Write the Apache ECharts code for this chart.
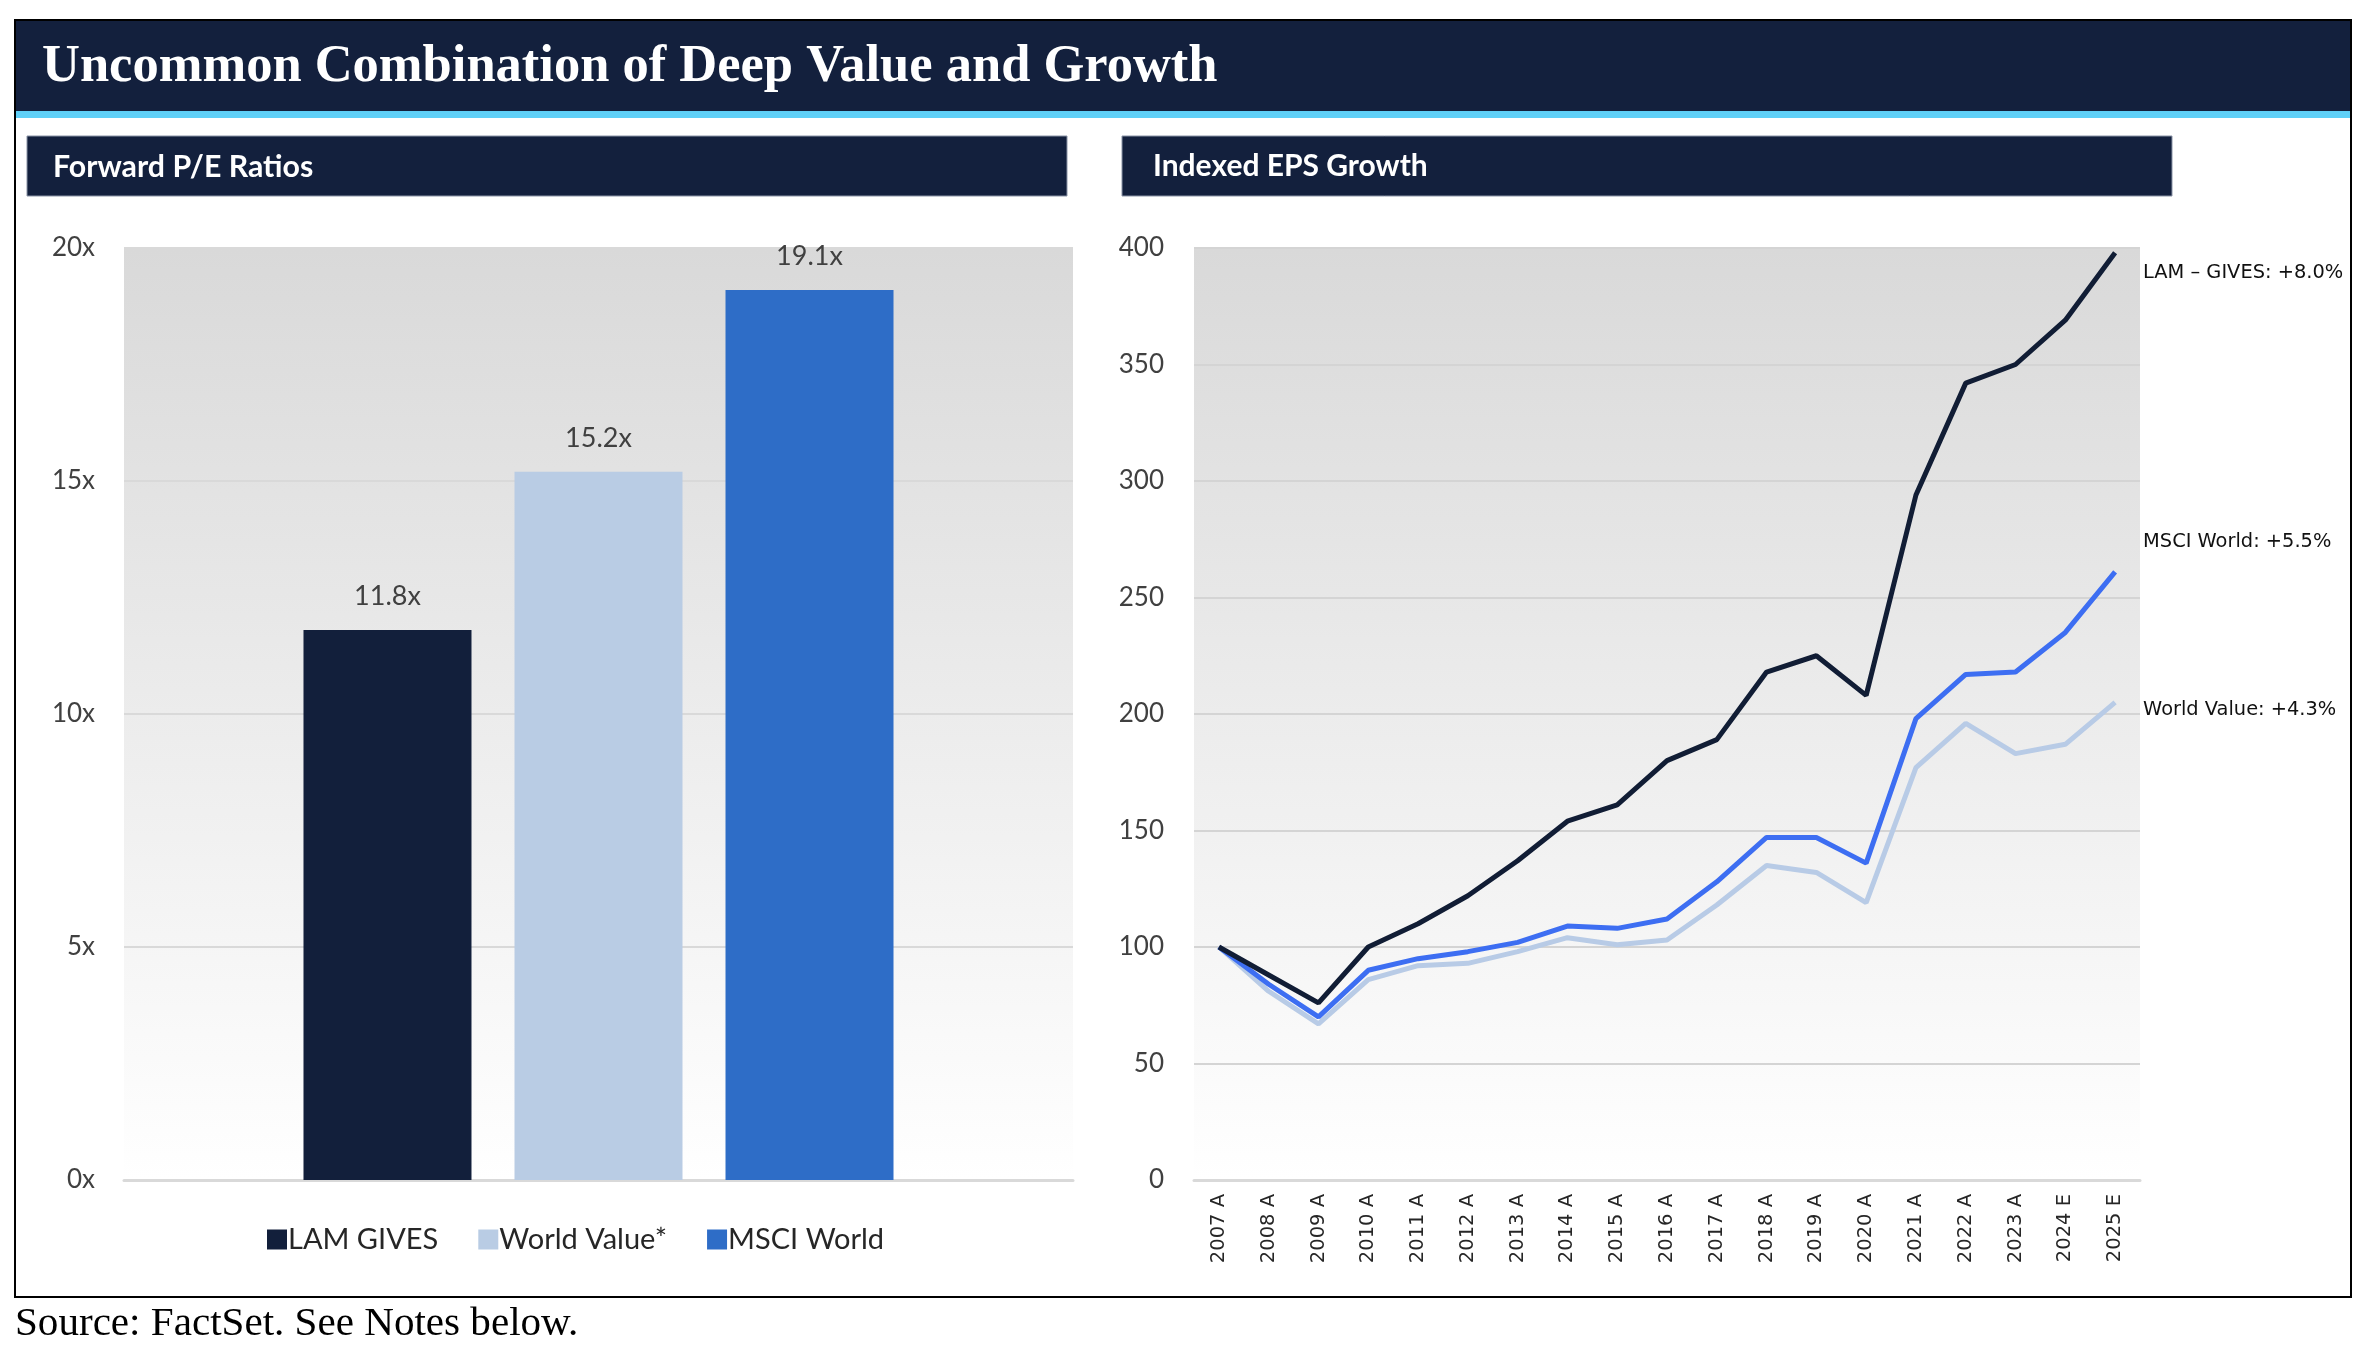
<!DOCTYPE html>
<html>
<head>
<meta charset="utf-8">
<script src="https://cdn.jsdelivr.net/npm/echarts@6/dist/echarts.min.js"></script>
<style>
html,body{margin:0;padding:0;background:#fff;}
#c{width:2370px;height:1354px;}
</style>
</head>
<body>
<div id="c"></div>
<script>
// ---- Data ----
const peCategories = ['Forward P/E'];
const peSeriesNames = ['LAM GIVES', 'World Value*', 'MSCI World'];
const peLAM = [11.8];
const peWorldValue = [15.2];
const peMSCI = [19.1];
const peTicks = ['0x', '5x', '10x', '15x', '20x'];

const years = ['2007 A','2008 A','2009 A','2010 A','2011 A','2012 A','2013 A','2014 A','2015 A','2016 A','2017 A','2018 A','2019 A','2020 A','2021 A','2022 A','2023 A','2024 E','2025 E'];
const epsLAM = [100, 88, 76, 100, 110, 122, 137, 154, 161, 180, 189, 218, 225, 208, 294, 342, 350, 369, 398];
const epsMSCI = [100, 84, 70, 90, 95, 98, 102, 109, 108, 112, 128, 147, 147, 136, 198, 217, 218, 235, 261];
const epsWorldValue = [100, 81, 67, 86, 92, 93, 98, 104, 101, 103, 118, 135, 132, 119, 177, 196, 183, 187, 205];
const epsEndLabels = ['LAM \u2013 GIVES: +8.0%', 'MSCI World: +5.5%', 'World Value: +4.3%'];

// ---- Styling helpers ----
const NAVY = '#13203d';
const cv = document.createElement('canvas').getContext('2d');
function fit(text, family, weight, target, base) {
  cv.font = weight + ' ' + base + 'px ' + family;
  const w = cv.measureText(text).width;
  return Math.round(base * target / w * 10) / 10;
}
const serif = '"Liberation Serif", "DejaVu Serif", serif';
const sans = 'Lato, "Noto Sans", sans-serif';
const titleText = 'Uncommon Combination of Deep Value and Growth';
const titleSize = fit(titleText, serif, 'bold', 1176, 44);
const sourceText = 'Source: FactSet. See Notes below.';
const sourceSize = fit(sourceText, serif, 'normal', 564, 36);
const sub1 = 'Forward P/E Ratios', sub2 = 'Indexed EPS Growth';
const sub1Size = fit(sub1, sans, 'bold', 260, 28);
const sub2Size = fit(sub2, sans, 'bold', 275, 28);
const endFam = '"DejaVu Sans", Verdana, sans-serif';
const endSize = fit(epsEndLabels[0], endFam, 'normal', 200, 18);

const plotBg = {type:'linear', x:0, y:0, x2:0, y2:1, colorStops:[{offset:0,color:'#d9d9d9'},{offset:1,color:'#ffffff'}]};

const chart = echarts.init(document.getElementById('c'));
const option = {
  animation: false,
  backgroundColor: '#ffffff',
  graphic: [
    {type:'rect', z:0, shape:{x:15,y:20,width:2336,height:1277}, style:{fill:'none', stroke:'#000', lineWidth:2}},
    {type:'rect', z:0, shape:{x:16,y:21,width:2334,height:90}, style:{fill:NAVY}},
    {type:'rect', z:0, shape:{x:16,y:111,width:2334,height:7}, style:{fill:'#5fd0f8'}},
    {type:'text', z:5, x:42, y:67, style:{text:titleText, fill:'#fff', font:'bold '+titleSize+'px '+serif, verticalAlign:'middle'}},
    {type:'rect', z:0, shape:{x:27,y:136,width:1040,height:60}, style:{fill:NAVY, stroke:'#8a93a6', lineWidth:1}},
    {type:'rect', z:0, shape:{x:1122,y:136,width:1050,height:60}, style:{fill:NAVY, stroke:'#8a93a6', lineWidth:1}},
    {type:'text', z:5, x:53, y:167, style:{text:sub1, fill:'#fff', font:'bold '+sub1Size+'px '+sans, verticalAlign:'middle'}},
    {type:'text', z:5, x:1153, y:166, style:{text:sub2, fill:'#fff', font:'bold '+sub2Size+'px '+sans, verticalAlign:'middle'}},
    {type:'text', z:5, x:15, y:1324, style:{text:sourceText, fill:'#000', font:sourceSize+'px '+serif, verticalAlign:'middle'}}
  ],
  legend: {
    data: peSeriesNames,
    left: 262, top: 1220,
    icon: 'rect', itemWidth: 20, itemHeight: 20, itemGap: 40,
    textStyle: {fontFamily: sans, fontSize: 29, color: '#262626', padding:[0,0,0,-4]}
  },
  grid: [
    {left:124, top:248, width:949, height:932, show:true, backgroundColor: plotBg, borderWidth:0},
    {left:1194, top:248, width:946, height:932, show:true, backgroundColor: plotBg, borderWidth:0}
  ],
  xAxis: [
    {type:'category', gridIndex:0, data: peCategories, axisTick:{show:false}, axisLabel:{show:false},
     axisLine:{lineStyle:{color:'#d9d9d9', width:3}}},
    {type:'category', gridIndex:1, data: years, boundaryGap:true, axisTick:{show:false},
     axisLine:{lineStyle:{color:'#d9d9d9', width:3}},
     axisLabel:{rotate:90, interval:0, margin:14, fontFamily:endFam, fontSize:19.5, color:'#262626'}}
  ],
  yAxis: [
    {type:'value', gridIndex:0, min:0, max:20, interval:5,
     axisLabel:{formatter: (v) => peTicks[v/5], margin:29, fontFamily:sans, fontSize:26, color:'#404040'},
     splitLine:{lineStyle:{color:'#d9d9d9', width:2}}, axisLine:{show:false}, axisTick:{show:false}},
    {type:'value', gridIndex:1, min:0, max:400, interval:50,
     axisLabel:{margin:30, fontFamily:sans, fontSize:26, color:'#404040'},
     splitLine:{lineStyle:{color:'#d4d4d4', width:2}}, axisLine:{show:false}, axisTick:{show:false}}
  ],
  series: [
    {name: peSeriesNames[0], type:'bar', xAxisIndex:0, yAxisIndex:0, data: peLAM, barWidth:168, barGap:'25.6%',
     itemStyle:{color:'#121f3b'}, label:{show:true, position:'top', distance:20, formatter:(p)=>p.value.toFixed(1)+'x', fontFamily:sans, fontSize:27, color:'#404040'}},
    {name: peSeriesNames[1], type:'bar', xAxisIndex:0, yAxisIndex:0, data: peWorldValue, barWidth:168, barGap:'25.6%',
     itemStyle:{color:'#b9cce4'}, label:{show:true, position:'top', distance:20, formatter:(p)=>p.value.toFixed(1)+'x', fontFamily:sans, fontSize:27, color:'#404040'}},
    {name: peSeriesNames[2], type:'bar', xAxisIndex:0, yAxisIndex:0, data: peMSCI, barWidth:168, barGap:'25.6%',
     itemStyle:{color:'#2e6dc7'}, label:{show:true, position:'top', distance:20, formatter:(p)=>p.value.toFixed(1)+'x', fontFamily:sans, fontSize:27, color:'#404040'}},
    {name:'World Value EPS', type:'line', xAxisIndex:1, yAxisIndex:1, data: epsWorldValue, symbol:'none',
     lineStyle:{color:'#b8cbe6', width:5}, itemStyle:{color:'#b8cbe6'}, z:3,
     endLabel:{show:true, formatter: epsEndLabels[2], distance:28, offset:[0,8], fontFamily:endFam, fontSize:endSize, color:'#111'}},
    {name:'MSCI World EPS', type:'line', xAxisIndex:1, yAxisIndex:1, data: epsMSCI, symbol:'none',
     lineStyle:{color:'#3d6ef2', width:5}, itemStyle:{color:'#3d6ef2'}, z:4,
     endLabel:{show:true, formatter: epsEndLabels[1], distance:28, offset:[0,-30], fontFamily:endFam, fontSize:endSize, color:'#111'}},
    {name:'LAM GIVES EPS', type:'line', xAxisIndex:1, yAxisIndex:1, data: epsLAM, symbol:'none',
     lineStyle:{color:'#111d35', width:5}, itemStyle:{color:'#111d35'}, z:5,
     endLabel:{show:true, formatter: epsEndLabels[0], distance:28, offset:[0,20], fontFamily:endFam, fontSize:endSize, color:'#111'}}
  ]
};
chart.setOption(option);
</script>
</body>
</html>
